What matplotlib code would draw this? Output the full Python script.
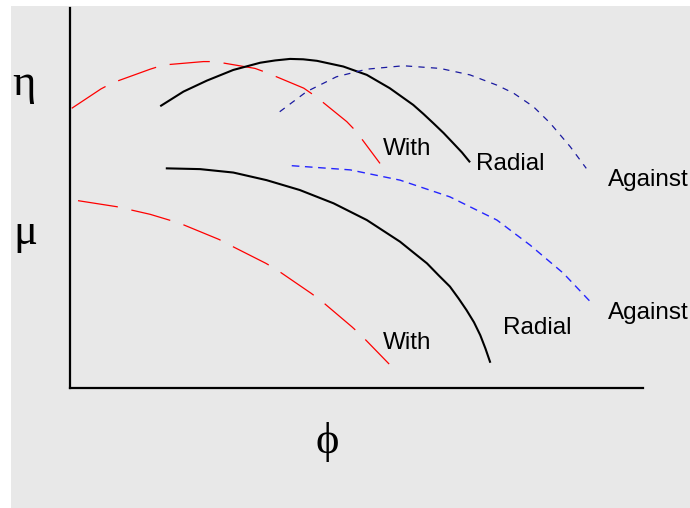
import numpy as np
import matplotlib.pyplot as plt
from matplotlib.patches import Rectangle

plt.rcParams['lines.scale_dashes'] = False

# curvas (phi, valor) - escala arbitraria 0..10
etaWithX = [0.03, 0.54, 0.74, 1.40, 1.63, 2.33, 2.53, 3.23, 3.43, 4.08, 4.29, 4.83, 4.99, 5.41]
etaWithY = [7.36, 7.87, 8.03, 8.39, 8.50, 8.59, 8.59, 8.41, 8.30, 7.89, 7.67, 7.01, 6.76, 5.91]
etaRadialX = [1.59, 1.98, 2.39, 2.85, 3.32, 3.58, 3.84, 4.07, 4.31, 4.77, 5.18, 5.58, 5.99,
              6.17, 6.34, 6.52, 6.69, 6.84, 6.97]
etaRadialY = [7.43, 7.80, 8.09, 8.37, 8.56, 8.62, 8.66, 8.65, 8.61, 8.46, 8.24, 7.89, 7.45,
              7.21, 6.97, 6.71, 6.44, 6.20, 5.96]
etaAgainstX = [3.66, 4.13, 4.65, 5.18, 5.82, 6.46, 6.98, 7.45, 7.74, 8.09, 8.38, 8.73, 9.01]
etaAgainstY = [7.27, 7.80, 8.19, 8.39, 8.48, 8.41, 8.24, 7.97, 7.76, 7.40, 6.97, 6.35, 5.78]

muWithX = [0.14, 0.82, 1.40, 1.73, 1.94, 2.60, 2.79, 3.42, 3.61, 4.21, 4.38, 4.92, 5.08, 5.57]
muWithY = [4.93, 4.77, 4.57, 4.42, 4.32, 3.91, 3.76, 3.28, 3.11, 2.49, 2.30, 1.61, 1.39, 0.63]
muRadialX = [1.69, 2.27, 2.85, 3.43, 4.01, 4.60, 5.18, 5.76, 5.99, 6.23, 6.43, 6.63, 6.78,
             6.92, 7.05, 7.16, 7.25, 7.33]
muRadialY = [5.78, 5.76, 5.67, 5.47, 5.21, 4.86, 4.42, 3.85, 3.57, 3.28, 2.97, 2.67, 2.36,
             2.05, 1.73, 1.39, 1.04, 0.69]
muAgainstX = [3.87, 4.89, 5.76, 6.63, 7.45, 8.03, 8.61, 9.10]
muAgainstY = [5.85, 5.74, 5.47, 5.03, 4.42, 3.76, 3.02, 2.24]

# rotulos das curvas
rotulos = ['With', 'Radial', 'Against', 'Against', 'Radial', 'With']
rotuloX = [5.46, 7.09, 9.39, 9.39, 7.55, 5.46]
rotuloY = [6.13, 5.74, 5.32, 1.81, 1.41, 1.02]

fig = plt.figure(figsize=(6.9, 5.08), dpi=100, facecolor='white')
# fundo cinza
fig.patches.append(Rectangle((11/690, 0), 1 - 11/690, (508 - 6)/508,
                             transform=fig.transFigure, facecolor='#e8e8e8',
                             edgecolor='none', zorder=-5))

ax = fig.add_axes([70/690, (508 - 388)/508, (643 - 70)/690, (388 - 8)/508])
ax.set_facecolor('none')
ax.set_xlim(0, 10)
ax.set_ylim(0, 10)
ax.spines['top'].set_visible(False)
ax.spines['right'].set_visible(False)
ax.spines['left'].set_linewidth(1.6)
ax.spines['bottom'].set_linewidth(1.6)
ax.set_xticks([])
ax.set_yticks([])

# eficiencia
ax.plot(etaWithX, etaWithY, color='red', lw=0.9, dashes=(29, 10))
ax.plot(etaRadialX, etaRadialY, color='black', lw=1.5, solid_joinstyle='round')
ax.plot(etaAgainstX, etaAgainstY, color='#1a1aa0', lw=0.9, dashes=(4.5, 4.5))

# coeficiente
ax.plot(muWithX, muWithY, color='red', lw=0.9, dashes=(29, 10))
ax.plot(muRadialX, muRadialY, color='black', lw=1.5, solid_joinstyle='round')
ax.plot(muAgainstX, muAgainstY, color='#2525ff', lw=1.0, dashes=(5.5, 4))

for txt, x, y in zip(rotulos, rotuloX, rotuloY):
    ax.text(x, y, txt, fontsize=17.5, family=['Liberation Sans', 'DejaVu Sans'],
            ha='left', va='baseline', clip_on=False)

grego = ['Liberation Serif', 'DejaVu Serif']
ax.text(-1.01, 7.71, 'η', fontsize=32, family=grego, ha='left', va='baseline', clip_on=False)
ax.text(-0.98, 3.79, 'μ', fontsize=32, family=grego, ha='left', va='baseline', clip_on=False)
ax.text(4.49, -1.71, 'ϕ', fontsize=32, family=grego, ha='center', va='baseline', clip_on=False)

plt.savefig('out.png', dpi=100, facecolor='white')
